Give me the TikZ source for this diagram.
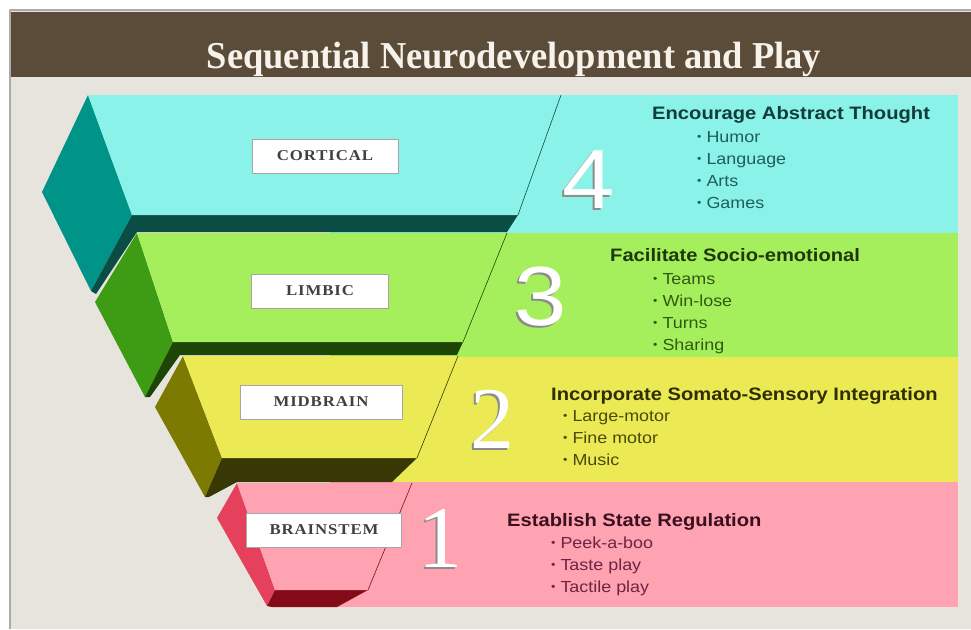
\documentclass[tikz,border=0pt]{standalone}
\usepackage{fontspec}
\setmainfont{Liberation Serif}
\newfontfamily\sansfont[FakeStretch=1.12]{Liberation Sans}
\newfontfamily\labelfont[FakeStretch=1.12,LetterSpace=6]{Liberation Serif}
\newfontfamily\titlefont[FakeStretch=0.96]{Liberation Serif}
\definecolor{bgray}{HTML}{E7E4DD}
\definecolor{fgray}{HTML}{ABABAB}
\definecolor{tbrown}{HTML}{5B4C3A}
\definecolor{tcream}{HTML}{F7F3EA}
\definecolor{ccyan}{HTML}{8AF2E8}
\definecolor{cteal}{HTML}{009488}
\definecolor{cteald}{HTML}{0A4D45}
\definecolor{cgreen}{HTML}{A6EF5C}
\definecolor{cgreens}{HTML}{3D9B14}
\definecolor{cgreend}{HTML}{1D4506}
\definecolor{cyel}{HTML}{EBEA55}
\definecolor{cyels}{HTML}{7D7A02}
\definecolor{cyeld}{HTML}{383805}
\definecolor{cpink}{HTML}{FFA2B2}
\definecolor{cpinks}{HTML}{E6415C}
\definecolor{cpinkd}{HTML}{850A18}
\definecolor{hcyan}{HTML}{123C3A}
\definecolor{icyan}{HTML}{1F5E5C}
\definecolor{hgreen}{HTML}{1E380A}
\definecolor{igreen}{HTML}{2F5A12}
\definecolor{hyel}{HTML}{2E2E00}
\definecolor{iyel}{HTML}{4A4A08}
\definecolor{hpink}{HTML}{3A0F1E}
\definecolor{ipink}{HTML}{6E2442}
\newcommand\bul{{\fontsize{11}{11}\selectfont\raisebox{1.2pt}{\textbullet}}\ }

\begin{document}
\begin{tikzpicture}[x=1pt, y=-1pt, line join=round,
  head/.style={font=\sansfont\bfseries\fontsize{18}{20}\selectfont, anchor=base west, inner sep=0pt},
  item/.style={font=\sansfont\fontsize{16}{18}\selectfont, anchor=base west, inner sep=0pt},
  lbl/.style={draw=gray!70, fill=white, line width=0.8pt, minimum height=34pt,
    font=\labelfont\bfseries\fontsize{15}{17}\selectfont, text=black!75},
  bignum/.style={font=\sansfont\fontsize{84}{84}\selectfont, inner sep=0pt, text=white},
  bigser/.style={font=\rmfamily\fontsize{88}{88}\selectfont, inner sep=0pt, text=white},
  edge/.style={line width=0.6pt}]
  \useasboundingbox (0,0) rectangle (971,629);
  % ---------- frame and title ----------
  \fill[white] (0,0) rectangle (971,629);
  \fill[bgray] (10,10) rectangle (971,629);
  \draw[fgray, line width=2pt] (10,629) -- (10,10) -- (971,10);
  \fill[tbrown] (11,12) rectangle (971,77);
  \node[font=\titlefont\bfseries\fontsize{38}{40}\selectfont, text=tcream, anchor=base]
    (title) at (514,68) {Sequential Neurodevelopment and Play};

  % ---------- bands ----------
  \fill[ccyan] (330,95) rectangle (958,233);
  \fill[cgreen] (330,233) rectangle (958,357);
  \fill[cyel] (330,357) rectangle (958,482);
  \fill[cpink] (330,482) rectangle (958,607);

  % ---------- cortical slab ----------
  \fill[cteal] (88,95) -- (42,192) -- (91,291) -- (132,215) -- cycle;
  \fill[cteald] (132,215) -- (518,215) -- (507,232) -- (137,232) -- (96,294) -- (91,291) -- cycle;
  \fill[ccyan] (88,95) -- (561,95) -- (518,215) -- (132,215) -- cycle;
  \draw[cteald, edge] (561,95) -- (518,215);

  % ---------- limbic slab ----------
  \fill[cgreens] (137,233) -- (95,302) -- (145,397) -- (173,342) -- cycle;
  \fill[cgreend] (173,342) -- (463,342) -- (457,355) -- (180,355) -- (150,397) -- (145,397) -- cycle;
  \fill[cgreen] (137,233) -- (507,233) -- (463,342) -- (173,342) -- cycle;
  \draw[cgreend, edge] (507,233) -- (463,342);

  % ---------- midbrain slab ----------
  \fill[cyels] (183,356) -- (155,407) -- (205,497) -- (222,458) -- cycle;
  \fill[cyeld] (222,458) -- (417,458) -- (392,482) -- (237,482) -- (209,497) -- (205,497) -- cycle;
  \fill[cyel] (183,356) -- (458,356) -- (417,458) -- (222,458) -- cycle;
  \draw[cyeld, edge] (458,356) -- (417,458);

  % ---------- brainstem slab ----------
  \fill[cpinks] (237,483) -- (217,518) -- (267,606) -- (275,590) -- cycle;
  \fill[cpinkd] (275,590) -- (368,590) -- (337,607) -- (272,607) -- (267,606) -- cycle;
  \fill[cpink] (237,483) -- (412,483) -- (368,590) -- (275,590) -- cycle;
  \draw[cpinkd, edge] (412,483) -- (368,590);

  % ---------- labels ----------
  \node[lbl, minimum width=146pt] (cortical) at (325,156) {CORTICAL};
  \node[lbl, minimum width=137pt] (limbic) at (320,291) {LIMBIC};
  \node[lbl, minimum width=162pt] (midbrain) at (321,402) {MIDBRAIN};
  \node[lbl, minimum width=155pt] (brainstem) at (324,530) {BRAINSTEM};

  % ---------- numbers ----------
  \node[bignum, text=black!45] (n4s) at (587,182) {4};
  \node[bignum] (n4) at (589,180) {4};
  \node[bignum, text=black!45] (n3s) at (539,299) {3};
  \node[bignum] (n3) at (541,297) {3};
  \node[bigser, text=black!45] (n2s) at (490,421) {2};
  \node[bigser] (n2) at (492,419) {2};
  \node[bigser, text=black!45] (n1s) at (438,540) {1};
  \node[bigser] (n1) at (440,538) {1};

  % ---------- play lists ----------
  \node[head, text=hcyan] (h4) at (652,119) {Encourage Abstract Thought};
  \node[item, text=icyan] (h4a) at (697,142) {\bul Humor};
  \node[item, text=icyan] (h4b) at (697,164) {\bul Language};
  \node[item, text=icyan] (h4c) at (697,186) {\bul Arts};
  \node[item, text=icyan] (h4d) at (697,208) {\bul Games};

  \node[head, text=hgreen] (h3) at (610,261) {Facilitate Socio-emotional};
  \node[item, text=igreen] (h3a) at (653,284) {\bul Teams};
  \node[item, text=igreen] (h3b) at (653,306) {\bul Win-lose};
  \node[item, text=igreen] (h3c) at (653,328) {\bul Turns};
  \node[item, text=igreen] (h3d) at (653,350) {\bul Sharing};

  \node[head, text=hyel] (h2) at (551,400) {Incorporate Somato-Sensory Integration};
  \node[item, text=iyel] (h2a) at (563,421) {\bul Large-motor};
  \node[item, text=iyel] (h2b) at (563,443) {\bul Fine motor};
  \node[item, text=iyel] (h2c) at (563,465) {\bul Music};

  \node[head, text=hpink] (h1) at (507,526) {Establish State Regulation};
  \node[item, text=ipink] (h1a) at (551,548) {\bul Peek-a-boo};
  \node[item, text=ipink] (h1b) at (551,570) {\bul Taste play};
  \node[item, text=ipink] (h1c) at (551,592) {\bul Tactile play};
\end{tikzpicture}
\end{document}
